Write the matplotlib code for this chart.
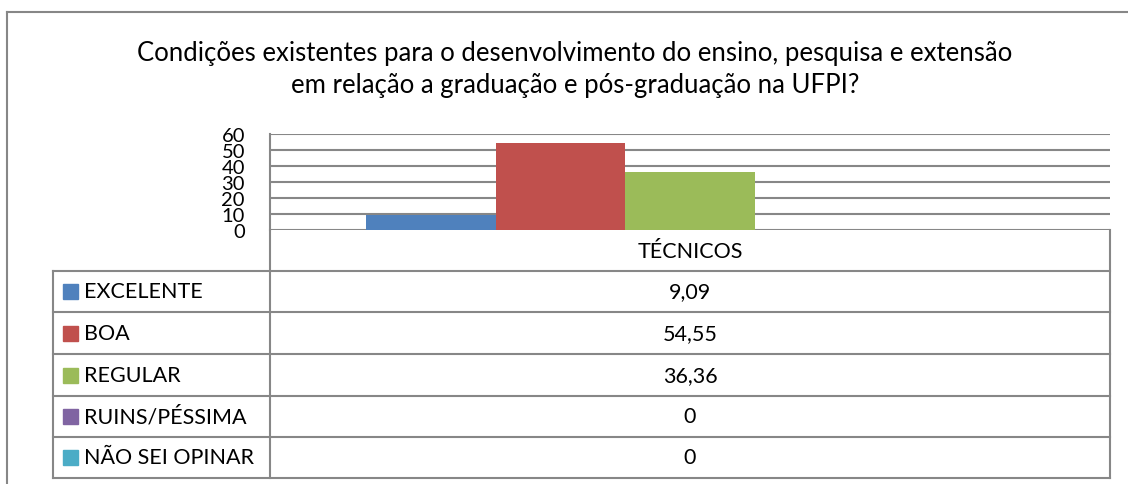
import numpy as np
import matplotlib.pyplot as plt
from matplotlib.patches import Rectangle

# dados
categoria = 'TÉCNICOS'
series = ['EXCELENTE', 'BOA', 'REGULAR', 'RUINS/PÉSSIMA', 'NÃO SEI OPINAR']
valores = [9.09, 54.55, 36.36, 0, 0]
rotulos = ['9,09', '54,55', '36,36', '0', '0']
cores = ['#4F81BD', '#C0504D', '#9BBB59', '#8064A2', '#4BACC6']
yticks = [0, 10, 20, 30, 40, 50, 60]
titulo = ('Condições existentes para o desenvolvimento do ensino, pesquisa e extensão\n'
          'em relação a graduação e pós-graduação na UFPI?')

plt.rcParams['font.family'] = ['Lato', 'DejaVu Sans']
cinza = '#878787'

W, H = 1128, 485
fig = plt.figure(figsize=(W/100, H/100), dpi=100)

# fundo em pixels (moldura + tabela)
bg = fig.add_axes([0, 0, 1, 1])
bg.set_xlim(0, W)
bg.set_ylim(H, 0)
bg.axis('off')

# moldura do grafico
bg.plot([7, W], [13, 13], color=cinza, lw=1.5)
bg.plot([7, 7], [13, H], color=cinza, lw=1.5)

bg.text(575, 70, titulo, ha='center', va='center', fontsize=18.5,
        linespacing=1.35)

# area de plotagem
x0, x1, ytop, ybot = 270, 1110, 135, 231
ax = fig.add_axes([x0/W, 1-ybot/H, (x1-x0)/W, (ybot-ytop)/H])
ax.set_xlim(-0.5, 0.5)
ax.set_ylim(0, 60)
w = 129.5/840
pos = (np.arange(len(valores)) - 2) * w
ax.bar(pos, valores, width=w, color=cores, zorder=3)
ax.set_yticks(yticks)
ax.set_yticklabels([str(t) for t in yticks], fontsize=14.5)
ax.yaxis.grid(True, color=cinza, lw=1.5)
ax.set_axisbelow(True)
ax.set_xticks([])
ax.tick_params(axis='y', length=0, pad=18)
for s in ['top', 'right', 'bottom']:
    ax.spines[s].set_visible(False)
ax.spines['left'].set_color(cinza)
ax.spines['left'].set_linewidth(1.5)
ax.patch.set_alpha(0)

# tabela de dados
linhas = [231, 272, 313, 355, 397, 438, 479]
tl, tm, tr = 53, 270, 1110
bg.plot([tm, tm], [ybot, linhas[-1]], color=cinza, lw=1.5)
bg.plot([tr, tr], [ybot, linhas[-1]], color=cinza, lw=1.5)
bg.plot([tl, tl], [linhas[1], linhas[-1]], color=cinza, lw=1.5)
for y in linhas[1:]:
    bg.plot([tl, tr], [y, y], color=cinza, lw=1.5)

bg.text((tm+tr)/2, (linhas[0]+linhas[1])/2, categoria, ha='center', va='center',
        fontsize=15.5)
for i, (nome, rot, cor) in enumerate(zip(series, rotulos, cores)):
    yc = (linhas[i+1] + linhas[i+2]) / 2
    bg.add_patch(Rectangle((63, yc-7.5), 15, 15, color=cor))
    bg.text(84, yc, nome, ha='left', va='center', fontsize=15.5)
    bg.text((tm+tr)/2, yc, rot, ha='center', va='center', fontsize=15.5)

fig.savefig('out.png', dpi=100)
